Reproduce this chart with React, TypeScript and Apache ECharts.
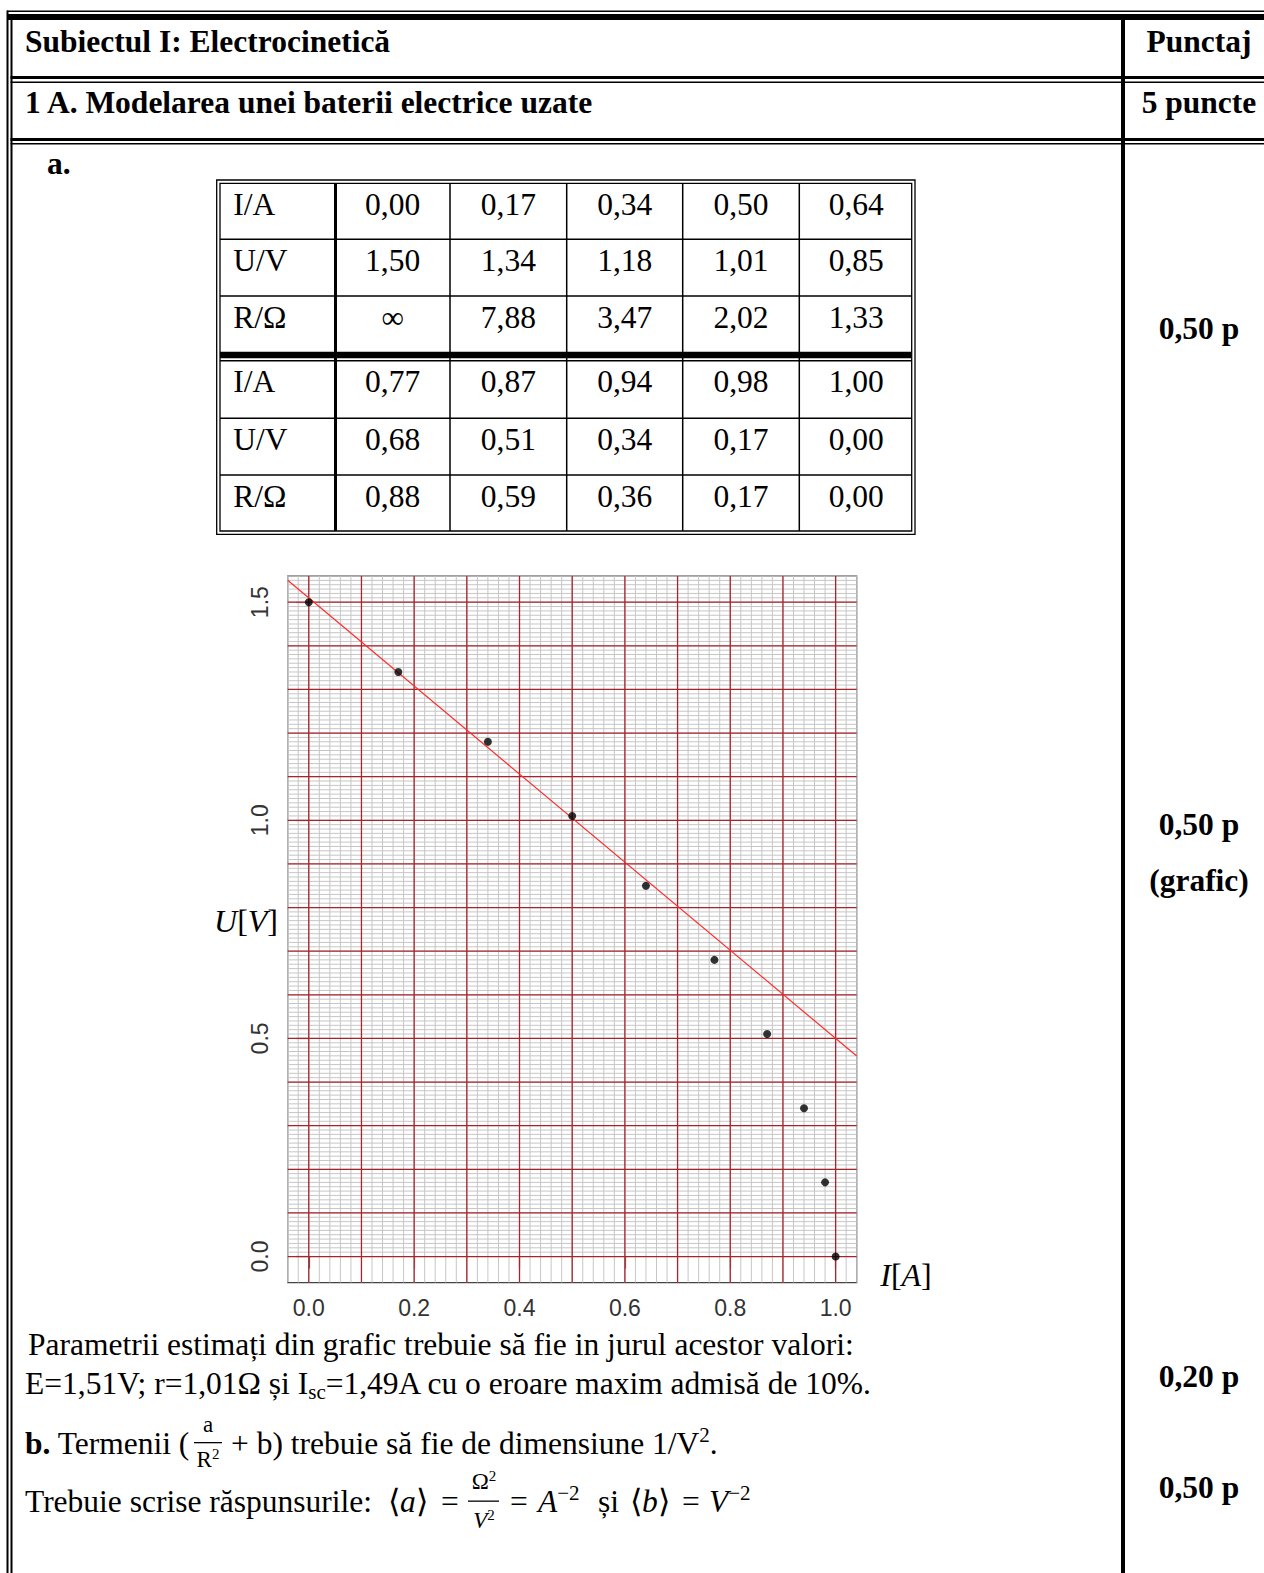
import { useEffect, useRef } from "react";
import * as echarts from "echarts";

// ---------- data ----------
const currentA = [0.0, 0.17, 0.34, 0.5, 0.64, 0.77, 0.87, 0.94, 0.98, 1.0];
const voltageV = [1.5, 1.34, 1.18, 1.01, 0.85, 0.68, 0.51, 0.34, 0.17, 0.0];
const resistanceLabels = ["∞", "7,88", "3,47", "2,02", "1,33", "0,88", "0,59", "0,36", "0,17", "0,00"];
const rowLabels = ["I/A", "U/V", "R/Ω"];
const fitE = 1.51;
const fitR = 1.01;
const xTicks = [0, 0.2, 0.4, 0.6, 0.8, 1.0];
const yTicks = [0, 0.5, 1.0, 1.5];
const xRange = [-0.04, 1.04];
const yRange = [-0.06, 1.56];
const pointLabels = ["0,50 p", "0,50 p", "(grafic)", "0,20 p", "0,50 p"];

// ---------- helpers ----------
const SERIF = '"Liberation Serif", "Times New Roman", serif';
const SANS = '"Liberation Sans", Arial, sans-serif';
const FS = 31.5;
const SUB = 21;

function seq(a: number, b: number, step: number) {
  const out: number[] = [];
  const n = Math.round((b - a) / step);
  for (let i = 0; i <= n; i++) out.push(+(a + i * step).toFixed(4));
  return out;
}
const fmt2 = (v: number) => v.toFixed(2).replace(".", ",");

function R(x: number, y: number, w: number, h: number, fill = "#000") {
  return { type: "rect", silent: true, shape: { x, y, width: w, height: h }, style: { fill } };
}
function box(x: number, y: number, w: number, h: number, lw = 1.3) {
  return { type: "rect", silent: true, shape: { x, y, width: w, height: h }, style: { fill: "none", stroke: "#000", lineWidth: lw } };
}
function T(x: number, y: number, text: string, o: any = {}) {
  const align = o.align ?? "left";
  return {
    type: "text",
    x,
    y,
    silent: true,
    z: 10,
    style: {
      text,
      fill: "#000",
      fontFamily: o.family ?? SERIF,
      fontSize: o.size ?? FS,
      fontWeight: o.bold ? "bold" : "normal",
      fontStyle: o.italic ? "italic" : "normal",
      align,
      textAlign: align,
      verticalAlign: "middle",
      textVerticalAlign: "middle",
      rich: o.rich,
    },
  };
}

const baseRich = {
  n: { fontFamily: SERIF, fontSize: FS, lineHeight: 38, verticalAlign: "middle" },
  i: { fontFamily: SERIF, fontSize: FS, fontStyle: "italic", lineHeight: 38, verticalAlign: "middle" },
  b: { fontFamily: SERIF, fontSize: FS, fontWeight: "bold", lineHeight: 38, verticalAlign: "middle" },
  s: { fontFamily: SERIF, fontSize: SUB, lineHeight: 20, verticalAlign: "bottom" },
  p: { fontFamily: SERIF, fontSize: SUB, lineHeight: 22, verticalAlign: "top" },
};
const fracRich = {
  n: { fontFamily: SERIF, fontSize: 23, lineHeight: 26, verticalAlign: "middle" },
  i: { fontFamily: SERIF, fontSize: 23, fontStyle: "italic", lineHeight: 26, verticalAlign: "middle" },
  p: { fontFamily: SERIF, fontSize: 15, lineHeight: 14, verticalAlign: "top" },
};

function buildDocument() {
  const els: any[] = [];
  // outer page borders
  els.push(R(7, 10.5, 1257, 1.5));
  els.push(R(7, 14, 1257, 6));
  els.push(R(6.5, 10.5, 2, 1563));
  els.push(R(10.5, 14, 2, 1559));
  els.push(R(10.5, 76, 1254, 3));
  els.push(R(10.5, 81.5, 1254, 1.5));
  els.push(R(10.5, 138, 1254, 3));
  els.push(R(10.5, 143, 1254, 1.5));
  els.push(R(1121, 20, 4, 1553));

  // header texts
  els.push(T(25, 41, "Subiectul I: Electrocinetică", { bold: true }));
  els.push(T(1199, 41, "Punctaj", { bold: true, align: "center" }));
  els.push(T(25, 102.5, "1 A. Modelarea unei baterii electrice uzate", { bold: true }));
  els.push(T(1199, 102.5, "5 puncte", { bold: true, align: "center" }));
  els.push(T(47, 163.5, "a.", { bold: true }));

  // right column scores
  const scoreY = [328, 824.5, 880, 1376.5, 1487];
  pointLabels.forEach((s, i) => els.push(T(1199, scoreY[i], s, { bold: true, align: "center" })));

  // ---- data table ----
  const colX = [218.3, 335.3, 450, 566.7, 682.7, 799.3, 913.3];
  const rowTops = [183.3, 239.3, 296, 360.7, 418.3, 475];
  els.push(box(216.7, 180, 698.3, 354.3));
  els.push(box(220, 183.3, 691.7, 347.7));
  [239.3, 296, 418.3, 475].forEach((y) => els.push(R(220, y - 0.75, 691.7, 1.5)));
  els.push(R(220, 351.7, 691.7, 6.6));
  els.push(R(220, 360, 691.7, 1.4));
  [450, 566.7, 682.7, 799.3].forEach((x) => els.push(R(x - 0.75, 183.3, 1.5, 347.7)));
  els.push(R(334, 183.3, 3, 347.7));

  for (let half = 0; half < 2; half++) {
    const idx = [0, 1, 2, 3, 4].map((k) => k + half * 5);
    const rows = [
      idx.map((i) => fmt2(currentA[i])),
      idx.map((i) => fmt2(voltageV[i])),
      idx.map((i) => resistanceLabels[i]),
    ];
    rows.forEach((cells, r) => {
      const y = rowTops[half * 3 + r] + 21;
      els.push(T(233.3, y, rowLabels[r]));
      cells.forEach((c, k) => {
        const cx = (colX[k + 1] + colX[k + 2]) / 2;
        els.push(T(cx, y, c, { align: "center" }));
      });
    });
  }

  // ---- text below the chart ----
  els.push(T(28, 1344.5, "Parametrii estimați din grafic trebuie să fie in jurul acestor valori:"));
  els.push(
    T(25, 1383.5, "{n|E=1,51V; r=1,01Ω și I}{s|sc}{n|=1,49A cu o eroare maxim admisă de 10%.}", {
      rich: baseRich,
    })
  );
  // line b.
  els.push(T(25, 1443, "{b|b.}{n| Termenii (}", { rich: baseRich }));
  els.push(T(208, 1424, "{n|a}", { rich: fracRich, align: "center" }));
  els.push(R(194, 1442, 28, 1.3));
  els.push(T(208, 1459, "{n|R}{p|2}", { rich: fracRich, align: "center" }));
  els.push(T(231, 1443, "{n|+ b) trebuie să fie de dimensiune 1/V}{p|2}{n|.}", { rich: baseRich }));

  // line with answers
  const my = 1501;
  els.push(T(25, my, "Trebuie scrise răspunsurile:"));
  els.push(T(388, my, "{n|⟨}{i|a}{n|⟩}", { rich: baseRich }));
  els.push(T(441, my, "="));
  els.push(T(484, 1481, "{n|Ω}{p|2}", { rich: fracRich, align: "center" }));
  els.push(R(468, 1500.5, 31, 1.3));
  els.push(T(484, 1520, "{i|V}{p|2}", { rich: fracRich, align: "center" }));
  els.push(T(510, my, "="));
  els.push(T(538, my, "{i|A}{p|−2}", { rich: baseRich }));
  els.push(T(598, my, "și"));
  els.push(T(630, my, "{n|⟨}{i|b}{n|⟩}", { rich: baseRich }));
  els.push(T(682, my, "="));
  els.push(T(709, my, "{i|V}{p|−2}", { rich: baseRich }));

  // axis titles of the chart
  const axRich = {
    i: { fontFamily: SERIF, fontSize: 32, fontStyle: "italic" },
    n: { fontFamily: SERIF, fontSize: 32 },
  };
  els.push(T(246, 921, "{i|U}{n|[}{i|V}{n|]}", { rich: axRich, align: "center" }));
  els.push(T(906, 1275, "{i|I}{n|[}{i|A}{n|]}", { rich: axRich, align: "center" }));
  return els;
}

function buildOption() {
  const minorV = seq(-0.04, 1.04, 0.02);
  const majorV = seq(0, 1, 0.1);
  const minorH = seq(0, 1.56, 0.01);
  const majorH = seq(0, 1.5, 0.1);
  const gridData = [
    ...minorV.map((v) => [v, 0]),
    ...minorH.map((v) => [v, 2]),
    ...majorV.map((v) => [v, 1]),
    ...majorH.map((v) => [v, 3]),
  ];
  const fitLine = xRange.map((x) => [x, fitE - fitR * x]);
  const points = currentA.map((x, i) => [x, voltageV[i]]);

  return {
    animation: false,
    backgroundColor: "#fff",
    grid: {
      left: 287.7,
      top: 576,
      width: 569,
      height: 706.7,
      show: true,
      borderColor: "#444",
      borderWidth: 1.2,
      backgroundColor: "rgba(0,0,0,0)",
    },
    xAxis: {
      type: "value",
      min: xRange[0],
      max: xRange[1],
      axisLine: { show: false },
      splitLine: { show: false },
      axisTick: { show: true, length: 12, customValues: xTicks, lineStyle: { color: "#444", width: 1.2 } },
      axisLabel: {
        customValues: xTicks,
        formatter: (v: number) => v.toFixed(1),
        fontFamily: SANS,
        fontSize: 23,
        color: "#333",
        margin: 14,
      },
    },
    yAxis: {
      type: "value",
      min: yRange[0],
      max: yRange[1],
      axisLine: { show: false },
      splitLine: { show: false },
      axisTick: { show: true, length: 13, customValues: yTicks, lineStyle: { color: "#444", width: 1.2 } },
      axisLabel: {
        customValues: yTicks,
        rotate: 90,
        formatter: (v: number) => v.toFixed(1),
        fontFamily: SANS,
        fontSize: 23,
        color: "#333",
        margin: 16,
      },
    },
    series: [
      {
        type: "custom",
        coordinateSystem: "cartesian2d",
        clip: true,
        silent: true,
        data: gridData,
        renderItem: (_p: any, api: any) => {
          const v = api.value(0);
          const t = api.value(1);
          const vertical = t === 0 || t === 1;
          const a = vertical ? api.coord([v, yRange[0]]) : api.coord([xRange[0], v]);
          const b = vertical ? api.coord([v, yRange[1]]) : api.coord([xRange[1], v]);
          const major = t === 1 || t === 3;
          return {
            type: "line",
            shape: { x1: a[0], y1: a[1], x2: b[0], y2: b[1] },
            style: { stroke: major ? "#a8242c" : "#c6c6c6", lineWidth: major ? 1.3 : 1 },
          };
        },
      },
      {
        type: "line",
        data: fitLine,
        showSymbol: false,
        symbol: "none",
        clip: true,
        silent: true,
        lineStyle: { color: "#ff2b2b", width: 1.2 },
        z: 3,
      },
      {
        type: "scatter",
        data: points,
        symbol: "circle",
        symbolSize: 8,
        itemStyle: { color: "#000" },
        silent: true,
        z: 4,
      },
    ],
    graphic: { elements: buildDocument() },
  };
}

export default function App() {
  const ref = useRef<HTMLDivElement>(null);
  useEffect(() => {
    if (!ref.current) return;
    const chart = echarts.init(ref.current, null, { renderer: "svg" });
    chart.setOption(buildOption() as any);
    return () => chart.dispose();
  }, []);
  return (
    <div
      ref={ref}
      style={{ position: "absolute", left: 0, top: 0, width: 1264, height: 1573, background: "#fff" }}
    />
  );
}
